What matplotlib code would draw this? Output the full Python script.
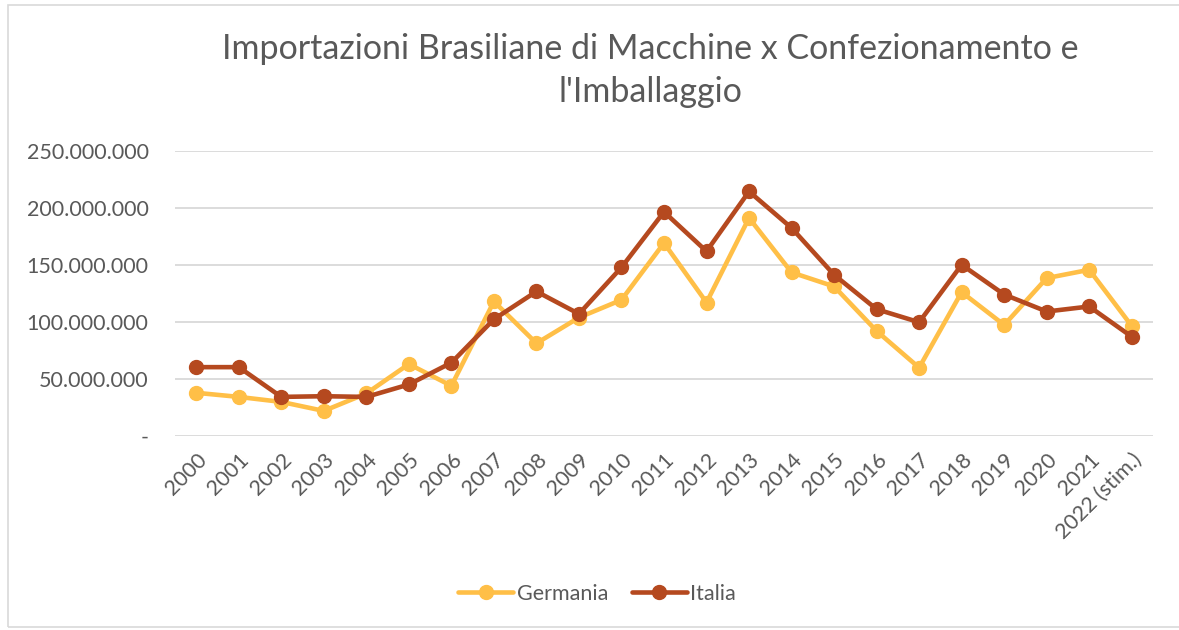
import matplotlib
matplotlib.use("Agg")
import matplotlib.pyplot as plt
from matplotlib.patches import Rectangle
from matplotlib.ticker import FuncFormatter, MultipleLocator

years = ["2000", "2001", "2002", "2003", "2004", "2005", "2006", "2007", "2008",
         "2009", "2010", "2011", "2012", "2013", "2014", "2015", "2016", "2017",
         "2018", "2019", "2020", "2021", "2022 (stim.)"]
germania = [37.9, 34.3, 29.9, 22.0, 37.3, 63.1, 44.0, 118.0, 81.3, 103.9, 119.4,
            169.3, 117.1, 191.3, 143.5, 131.2, 92.1, 59.9, 126.2, 97.4, 138.5,
            145.8, 96.5]
italia = [60.4, 60.4, 34.3, 34.9, 34.3, 45.2, 64.3, 102.4, 126.8, 107.1, 147.9,
          196.6, 162.0, 214.5, 182.5, 141.4, 111.2, 99.8, 150.2, 124.1, 109.2,
          113.6, 87.1]
germania = [v * 1e6 for v in germania]
italia = [v * 1e6 for v in italia]

plt.rcParams['font.family'] = ['Lato', 'DejaVu Sans']
txt = '#595959'
c_ger = '#FFBF47'
c_ita = '#B5491F'

W, H = 1179, 630
fig = plt.figure(figsize=(W / 100, H / 100), dpi=100)
fig.patches.append(Rectangle((8 / W, 3 / H), 1.2, 1 - 8 / H, transform=fig.transFigure,
                             fill=False, edgecolor='#d9d9d9', linewidth=1.2))

ax = fig.add_axes([175 / W, 1 - 436 / H, (1153 - 175) / W, (436 - 151) / H])
x = list(range(len(years)))
ax.plot(x, germania, color=c_ger, lw=3.3, marker='o', ms=10, label='Germania',
        solid_capstyle='round', zorder=3)
ax.plot(x, italia, color=c_ita, lw=3.3, marker='o', ms=10, label='Italia',
        solid_capstyle='round', zorder=4)

ax.set_xlim(-0.5, len(years) - 0.5)
ax.set_ylim(0, 250e6)
ax.yaxis.set_major_locator(MultipleLocator(50e6))


def fmt(v, pos):
    if abs(v) < 1:
        return '-'
    return f"{int(round(v)):,}".replace(',', '.')


ax.yaxis.set_major_formatter(FuncFormatter(fmt))
ax.grid(axis='y', color='#d9d9d9', linewidth=1.3)
ax.set_axisbelow(True)
for s in ax.spines.values():
    s.set_visible(False)
ax.tick_params(axis='both', length=0, colors=txt, labelsize=15.5)
ax.tick_params(axis='y', pad=19)
ax.set_xticks(x)
ax.set_xticklabels(years, rotation=45, ha='right', va='top', rotation_mode='anchor')
ax.tick_params(axis='x', pad=10)

fig.text(650 / W, 1 - 49 / H, "Importazioni Brasiliane di Macchine x Confezionamento e",
         ha='center', va='center', fontsize=24.5, color=txt)
fig.text(650 / W, 1 - 92 / H, "l'Imballaggio", ha='center', va='center',
         fontsize=24.5, color=txt)

leg = fig.legend(loc='center', bbox_to_anchor=(597 / W, 1 - 594 / H), ncol=2,
                 frameon=False, fontsize=15.5, handlelength=2.55, columnspacing=1.1,
                 handletextpad=0.15)
for t in leg.get_texts():
    t.set_color(txt)

fig.savefig('out.png', dpi=100)
